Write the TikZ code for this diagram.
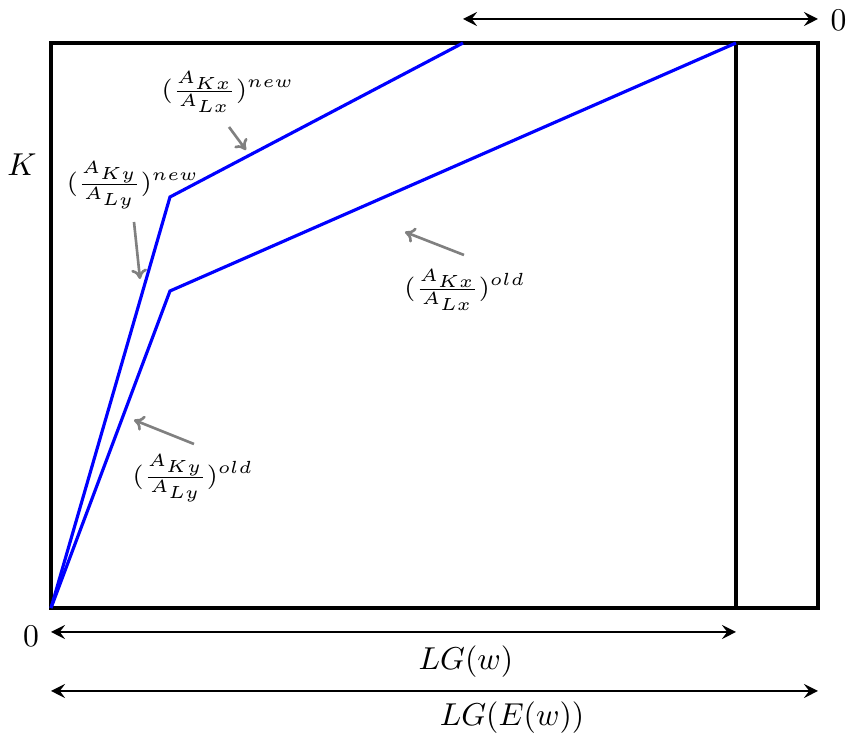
\documentclass[tikz,border=0pt]{standalone}
\usetikzlibrary{arrows.meta}
\begin{document}
\begin{tikzpicture}[x=0.01cm,y=-0.01cm,
  frame/.style={line width=0.9pt,black},
  curve/.style={line width=0.9pt,blue,line join=miter},
  dim/.style={line width=0.6pt,black,{Stealth[length=4pt,width=4pt,inset=1.5pt]}-{Stealth[length=4pt,width=4pt,inset=1.5pt]}},
  pointer/.style={line width=0.75pt,gray,-{To[length=2.8pt,width=4.5pt]}},
  lab/.style={inner sep=0pt,font=\scriptsize},
  big/.style={inner sep=0pt,scale=0.9}]
\useasboundingbox (0,0) rectangle (850,740);
% frame
\coordinate (O) at (51,608);
\coordinate (TR) at (818,43);
\coordinate (VT) at (736,43);
\coordinate (VB) at (736,608);
\draw[frame] (O) rectangle (TR);
\draw[frame] (VT) -- (VB);
% curves
\coordinate (Pn) at (170,197);
\coordinate (En) at (463,43);
\coordinate (Po) at (170,291);
\draw[curve] (O) -- (Pn) -- (En);
\draw[curve] (O) -- (Po) -- (VT);
% dimension arrows
\coordinate (T1) at (463,19);
\coordinate (T2) at (818,19);
\draw[dim] (T1) -- (T2);
\node[big,anchor=west] (zt) at (830,20) {$0$};
\coordinate (B1a) at (51,632);
\coordinate (B1b) at (736,632);
\draw[dim] (B1a) -- (B1b);
\node[big] (zb) at (31,636) {$0$};
\node[big] (lgw) at (466,662) {$LG(w)$};
\coordinate (B2a) at (51,691);
\coordinate (B2b) at (818,691);
\draw[dim] (B2a) -- (B2b);
\node[big] (lgew) at (512,718) {$LG(E(w))$};
\node[big] (K) at (22,165) {$K$};
% labels
\node[lab] (lxn) at (228,92) {$(\frac{A_{Kx}}{A_{Lx}})^{new}$};
\node[lab] (lyn) at (133,185) {$(\frac{A_{Ky}}{A_{Ly}})^{new}$};
\node[lab] (lxo) at (465,290) {$(\frac{A_{Kx}}{A_{Lx}})^{old}$};
\node[lab] (lyo) at (193,478) {$(\frac{A_{Ky}}{A_{Ly}})^{old}$};
% pointers
\coordinate (a1s) at (229,127); \coordinate (a1e) at (246,150);
\coordinate (a2s) at (134,222); \coordinate (a2e) at (140,279);
\coordinate (a3s) at (464,255); \coordinate (a3e) at (405,232);
\coordinate (a4s) at (194,444); \coordinate (a4e) at (134,420);
\draw[pointer] (a1s) -- (a1e);
\draw[pointer] (a2s) -- (a2e);
\draw[pointer] (a3s) -- (a3e);
\draw[pointer] (a4s) -- (a4e);
\end{tikzpicture}
\end{document}
